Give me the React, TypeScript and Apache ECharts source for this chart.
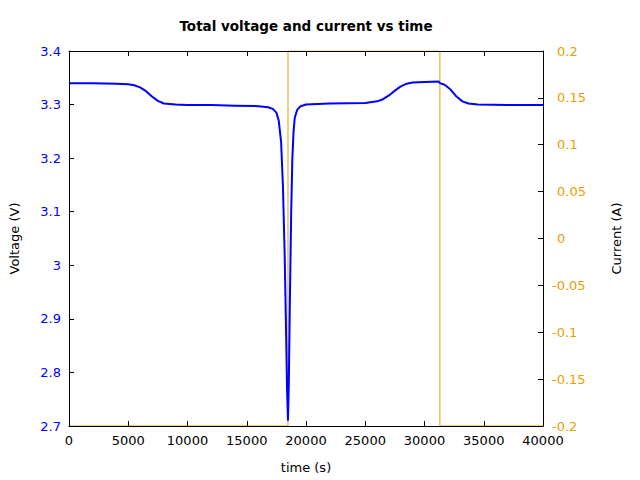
import React, { useEffect, useRef } from "react";
import * as echarts from "echarts";

const timeS = [0, 2000, 4000, 5000, 5500, 6000, 6500, 7000, 7500, 8000, 9000, 10000, 12000, 14000, 16000, 16800, 17200, 17500, 17700, 17900, 18050, 18200, 18300, 18400, 18480, 18550, 18650, 18750, 18850, 18950, 19050, 19250, 19550, 20000, 22000, 25000, 26000, 26500, 27000, 27500, 28000, 28500, 29000, 30000, 31200, 31300, 31700, 32200, 32700, 33200, 33700, 34500, 37000, 40000];
const voltageV = [3.340, 3.340, 3.339, 3.338, 3.336, 3.332, 3.325, 3.315, 3.307, 3.302, 3.300, 3.299, 3.299, 3.298, 3.297, 3.295, 3.292, 3.285, 3.270, 3.230, 3.150, 3.020, 2.900, 2.770, 2.710, 2.780, 2.950, 3.100, 3.200, 3.250, 3.275, 3.290, 3.297, 3.300, 3.302, 3.303, 3.306, 3.310, 3.317, 3.326, 3.334, 3.339, 3.341, 3.342, 3.343, 3.340, 3.337, 3.328, 3.315, 3.306, 3.302, 3.300, 3.299, 3.299];

const currentTime = [0, 18480, 18480, 31300, 31300, 40000];
const currentA = [-0.2, -0.2, 0.2, 0.2, -0.2, -0.2];

const TITLE = "Total voltage and current vs time";
const ORANGE = "#e69f00";
const BLUE = "#0000ff";
const FONT = "DejaVu Sans";
const FS = 13;

export default function App() {
  const ref = useRef<HTMLDivElement>(null);
  useEffect(() => {
    const chart = echarts.init(ref.current!, null, { renderer: "svg" });
    const tick = { show: true, inside: true, length: 5, lineStyle: { color: "#000", width: 1 } };
    const axisLine = { show: true, onZero: false, lineStyle: { color: "#000", width: 1 } };
    chart.setOption({
      animation: false,
      backgroundColor: "#fff",
      graphic: [
        {
          type: "text",
          x: 306,
          y: 26,
          style: {
            text: TITLE,
            align: "center",
            verticalAlign: "middle",
            font: "bold 13.5px 'DejaVu Sans'",
            fill: "#000",
          },
        },
      ],
      grid: { left: 69, right: 97, top: 51, bottom: 54 },
      xAxis: [
        {
          type: "value",
          position: "bottom",
          min: 0,
          max: 40000,
          interval: 5000,
          z: 5,
          axisLine,
          axisTick: tick,
          splitLine: { show: false },
          axisLabel: {
            color: "#000",
            fontFamily: FONT,
            fontSize: FS,
            margin: 8,
            formatter: (v: number) => String(Math.round(v)),
          },
          name: "time (s)",
          nameLocation: "middle",
          nameGap: 35,
          nameTextStyle: { color: "#000", fontFamily: FONT, fontSize: FS },
        },
        {
          type: "value",
          position: "top",
          min: 0,
          max: 40000,
          interval: 5000,
          z: 5,
          axisLine,
          axisTick: tick,
          splitLine: { show: false },
          axisLabel: { show: false },
        },
      ],
      yAxis: [
        {
          type: "value",
          position: "left",
          min: 2.7,
          max: 3.4,
          interval: 0.1,
          z: 5,
          axisLine,
          axisTick: tick,
          splitLine: { show: false },
          axisLabel: {
            color: BLUE,
            fontFamily: FONT,
            fontSize: FS,
            margin: 8,
            formatter: (v: number) => String(Math.round(v * 10) / 10),
          },
          name: "Voltage (V)",
          nameLocation: "middle",
          nameGap: 48,
          nameTextStyle: { color: "#000", fontFamily: FONT, fontSize: FS },
        },
        {
          type: "value",
          position: "right",
          min: -0.2,
          max: 0.2,
          interval: 0.05,
          z: 5,
          axisLine,
          axisTick: tick,
          splitLine: { show: false },
          axisLabel: {
            color: ORANGE,
            fontFamily: FONT,
            fontSize: FS,
            margin: 9,
            align: "left",
            formatter: (v: number) => {
              const s = String(Math.round(v * 100) / 100);
              return v < -1e-9 ? "{n|" + s + "}" : "{p|" + s + "}";
            },
            rich: {
              n: { color: ORANGE, fontFamily: FONT, fontSize: FS },
              p: { color: ORANGE, fontFamily: FONT, fontSize: FS, padding: [0, 0, 0, 5] },
            },
          },
          name: "Current (A)",
          nameLocation: "middle",
          nameGap: 67,
          nameTextStyle: { color: "#000", fontFamily: FONT, fontSize: FS },
        },
      ],
      series: [
        {
          type: "line",
          xAxisIndex: 0,
          yAxisIndex: 1,
          showSymbol: false,
          data: currentTime.map((t, i) => [t, currentA[i]]),
          lineStyle: { color: ORANGE, width: 1 },
          z: 1,
        },
        {
          type: "line",
          xAxisIndex: 0,
          yAxisIndex: 0,
          showSymbol: false,
          data: timeS.map((t, i) => [t, voltageV[i]]),
          lineStyle: { color: BLUE, width: 2 },
          z: 2,
        },
      ],
    });
    return () => chart.dispose();
  }, []);
  return <div ref={ref} style={{ width: 640, height: 480, position: "absolute", left: 0, top: 0 }} />;
}
